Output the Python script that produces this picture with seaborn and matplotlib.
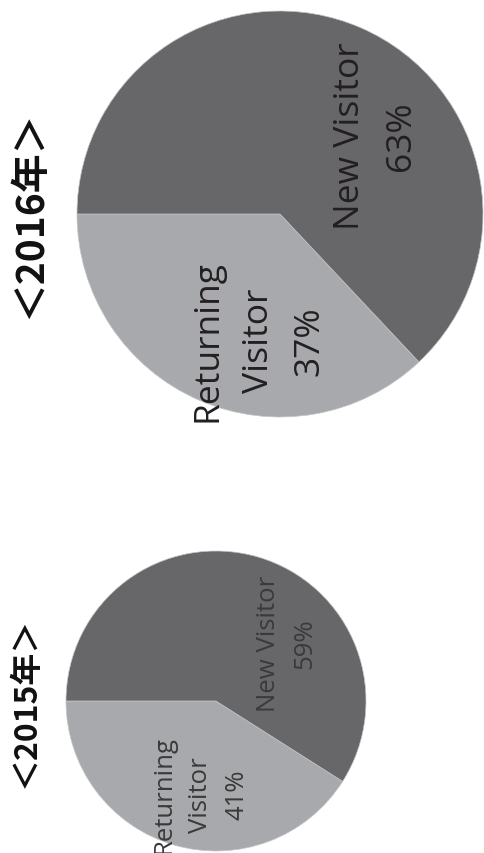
import matplotlib
matplotlib.use("Agg")
import matplotlib.pyplot as plt
import seaborn as sns

# Visitor share per year (percent)
categories = ["Returning\nVisitor", "New Visitor"]
share_2015 = [41, 59]
share_2016 = [37, 63]
titles = ["＜2015年＞", "＜2016年＞"]

sns.set_theme(style="white")
plt.rcParams["font.family"] = ["Open Sans", "DejaVu Sans"]

W, H = 484, 854
fig = plt.figure(figsize=(W / 100, H / 100), dpi=100)
ax = fig.add_axes([0, 0, 1, 1])
ax.set_xlim(0, W)
ax.set_ylim(0, H)
ax.set_aspect("equal")
ax.axis("off")

colors = ["#a8a9ac", "#67676a"]

# layout for each pie: centre, radius, label size, title size, title x
layouts = [
    dict(center=(216, 152), r=150, fs=18.5, tfs=23, tx=26, tc="#3a3a3a", ls=1.6),
    dict(center=(280, 639), r=203, fs=25.5, tfs=28, tx=30, tc="#231f20", ls=1.65),
]
data = [share_2015, share_2016]

for vals, title, lay in zip(data, titles, layouts):
    cx, cy = lay["center"]
    r = lay["r"]
    ax.pie(vals, colors=colors, startangle=180, counterclock=True,
           center=(cx, cy), radius=r,
           wedgeprops=dict(linewidth=0.5, edgecolor="#c4c5c8"))
    # label offsets in radius units
    offsets = [(-0.105, -0.62), (0.47, 0.39)]
    for cat, v, (fx, fy) in zip(categories, vals, offsets):
        ax.text(cx + fx * r, cy + fy * r, f"{cat}\n{v}%", rotation=90,
                ha="center", va="center", multialignment="center",
                fontsize=lay["fs"], color=lay["tc"], linespacing=lay["ls"],
                clip_on=False)
    ax.text(lay["tx"], cy, title, rotation=90, ha="center", va="center",
            fontsize=lay["tfs"], fontweight="bold", color="#111111",
            family=["Noto Sans CJK JP", "DejaVu Sans"])

ax.set_xlim(0, W)
ax.set_ylim(0, H)
fig.savefig("out.png", dpi=100, facecolor="white")
